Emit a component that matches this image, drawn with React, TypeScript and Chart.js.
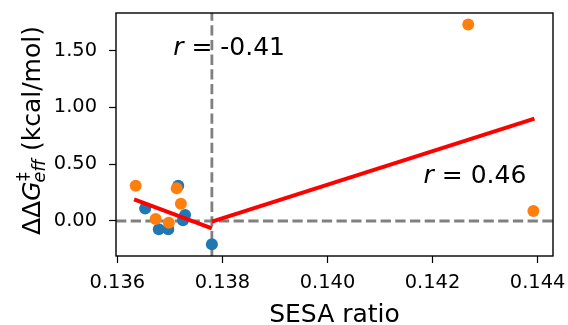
import React, { useEffect, useRef } from "react";
import { Chart, registerables } from "chart.js";

Chart.register(...registerables);

// ---- data ----
const blueX = [0.13653, 0.13679, 0.13697, 0.13716, 0.13729, 0.13725, 0.1378];
const blueY = [0.11, -0.073, -0.073, 0.31, 0.053, 0.006, -0.204];
const orangeX = [0.13635, 0.13673, 0.13698, 0.13713, 0.13721, 0.14268, 0.14392];
const orangeY = [0.31, 0.018, -0.015, 0.287, 0.152, 1.728, 0.088];

const leftFitX = [0.13632, 0.1378];
const leftFitY = [0.19, -0.064];
const rightFitX = [0.1378, 0.14394];
const rightFitY = [-0.006, 0.9];

const splitX = 0.1378;
const zeroY = 0;

const xTicks = [0.136, 0.138, 0.14, 0.142, 0.144];
const yTicks = [0, 0.5, 1.0, 1.5];
const xMin = 0.135975;
const xMax = 0.144293;
const yMin = -0.308;
const yMax = 1.83;

const annLeftText = " = -0.41";
const annLeftX = 0.138128;
const annLeftY = 1.4626;
const annRightText = " = 0.46";
const annRightX = 0.142808;
const annRightY = 0.335;

const xTitle = "SESA ratio";

const FAM = '"DejaVu Sans"';

function pts(xs: number[], ys: number[]) {
  return xs.map((x, i) => ({ x, y: ys[i] }));
}

function drawR(ctx: CanvasRenderingContext2D, cx: number, by: number, rest: string) {
  ctx.font = `italic 25px ${FAM}`;
  const w1 = ctx.measureText("r").width;
  ctx.font = `25px ${FAM}`;
  const w2 = ctx.measureText(rest).width;
  const x0 = cx - (w1 + w2) / 2;
  ctx.textAlign = "left";
  ctx.textBaseline = "alphabetic";
  ctx.fillStyle = "#000";
  ctx.font = `italic 25px ${FAM}`;
  ctx.fillText("r", x0, by);
  ctx.font = `25px ${FAM}`;
  ctx.fillText(rest, x0 + w1, by);
}

const overlay = {
  id: "overlay",
  afterDatasetsDraw(chart: any) {
    const { ctx, chartArea, scales } = chart;
    const { left, top, right, bottom } = chartArea;
    ctx.save();
    ctx.strokeStyle = "#000";
    ctx.lineWidth = 1.4;
    ctx.strokeRect(left, top, right - left, bottom - top);

    drawR(ctx, scales.x.getPixelForValue(annLeftX), scales.y.getPixelForValue(annLeftY), annLeftText);
    drawR(ctx, scales.x.getPixelForValue(annRightX), scales.y.getPixelForValue(annRightY), annRightText);

    // y axis label with math formatting
    ctx.translate(40, 235);
    ctx.rotate(-Math.PI / 2);
    ctx.fillStyle = "#000";
    ctx.textAlign = "left";
    ctx.textBaseline = "alphabetic";
    let xx = 0;
    ctx.font = `25px ${FAM}`;
    ctx.fillText("ΔΔ", xx, 0);
    xx += ctx.measureText("ΔΔ").width;
    ctx.font = `italic 25px ${FAM}`;
    ctx.fillText("G", xx, 0);
    xx += ctx.measureText("G").width;
    ctx.font = `17.5px ${FAM}`;
    ctx.fillText("‡", xx + 0.5, -11);
    const ws = ctx.measureText("‡").width;
    ctx.font = `italic 17.5px ${FAM}`;
    ctx.fillText("eff", xx - 1, 5);
    const we = ctx.measureText("eff").width;
    xx += Math.max(ws, we - 1);
    ctx.font = `25px ${FAM}`;
    ctx.fillText(" (kcal/mol)", xx, 0);
    ctx.restore();
  },
};

function zeroPad(s: any) {
  s.paddingTop = 0;
  s.paddingBottom = 0;
  s.paddingLeft = 0;
  s.paddingRight = 0;
}

export default function App() {
  const ref = useRef<HTMLCanvasElement>(null);
  useEffect(() => {
    if (!ref.current) return;
    const dashed = {
      borderColor: "#808080",
      borderWidth: 2.8,
      borderDash: [10.3, 4.4],
      pointRadius: 0,
      showLine: true,
      fill: false,
    };
    const chart = new Chart(ref.current, {
      type: "scatter",
      data: {
        datasets: [
          { ...dashed, data: [{ x: splitX, y: yMin }, { x: splitX, y: yMax }], order: 3 },
          { ...dashed, data: [{ x: xMin, y: zeroY }, { x: xMax, y: zeroY }], order: 3 },
          {
            data: pts(blueX, blueY),
            backgroundColor: "#1f77b4",
            borderWidth: 0,
            pointRadius: 6,
            order: 2,
          },
          {
            data: pts(orangeX, orangeY),
            backgroundColor: "#ff7f0e",
            borderWidth: 0,
            pointRadius: 6,
            order: 1,
          },
          {
            data: pts(leftFitX, leftFitY),
            borderColor: "#ff0000",
            borderWidth: 4,
            pointRadius: 0,
            showLine: true,
            order: 0,
          },
          {
            data: pts(rightFitX, rightFitY),
            borderColor: "#ff0000",
            borderWidth: 4,
            pointRadius: 0,
            showLine: true,
            order: 0,
          },
        ] as any,
      },
      options: {
        animation: false,
        responsive: false,
        events: [],
        layout: { padding: { left: 0, top: 13, right: 15, bottom: 0 } },
        plugins: { legend: { display: false }, tooltip: { enabled: false } },
        scales: {
          x: {
            type: "linear",
            min: xMin,
            max: xMax,
            afterFit: (s: any) => {
              s.height = 69;
              zeroPad(s);
            },
            afterBuildTicks: (s: any) => {
              s.ticks = xTicks.map((v) => ({ value: v }));
            },
            border: { display: false },
            grid: { drawOnChartArea: false, tickLength: 7, tickColor: "#000", tickWidth: 1.2 },
            ticks: {
              color: "#000",
              font: { family: "DejaVu Sans", size: 19.4 },
              padding: 8,
              maxRotation: 0,
              callback: (v: any) => Number(v).toFixed(3),
            },
            title: {
              display: true,
              text: xTitle,
              color: "#000",
              font: { family: "DejaVu Sans", size: 25 },
              padding: { top: 0, bottom: -5 },
            },
          },
          y: {
            type: "linear",
            min: yMin,
            max: yMax,
            afterFit: (s: any) => {
              s.width = 116;
              zeroPad(s);
            },
            afterBuildTicks: (s: any) => {
              s.ticks = yTicks.map((v) => ({ value: v }));
            },
            border: { display: false },
            grid: { drawOnChartArea: false, tickLength: 7, tickColor: "#000", tickWidth: 1.2 },
            ticks: {
              color: "#000",
              font: { family: "DejaVu Sans", size: 19.4 },
              padding: 12,
              callback: (v: any) => Number(v).toFixed(2),
            },
          },
        },
      },
      plugins: [overlay],
    } as any);
    return () => chart.destroy();
  }, []);
  return (
    <div style={{ position: "absolute", left: 0, top: 0, width: 568, height: 325, background: "#fff" }}>
      <canvas ref={ref} width={568} height={325} style={{ display: "block" }} />
    </div>
  );
}
